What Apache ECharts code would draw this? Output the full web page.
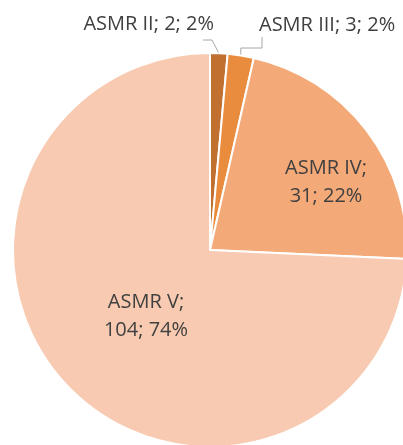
<!DOCTYPE html>
<html>
<head>
<meta charset="utf-8">
<script src="https://cdn.jsdelivr.net/npm/echarts@6/dist/echarts.min.js"></script>
<style>
  html, body { margin: 0; padding: 0; background: #fff; }
  #chart { width: 403px; height: 445px; }
</style>
</head>
<body>
<div id="chart"></div>
<script>
// données
const categories = ["ASMR II", "ASMR III", "ASMR IV", "ASMR V"]
const values = [2, 3, 31, 104]
const percentLabels = ["2%", "2%", "22%", "74%"]
const colors = ["#C1702F", "#EA8C3E", "#F4AA78", "#F8CAB1"]

const myChart = echarts.init(document.getElementById("chart"))

const seriesData = categories.map((name, i) => ({
  name: name,
  value: values[i],
  itemStyle: { color: colors[i] },
  label: i < 2
    ? { position: "outside" }
    : { position: "inside" },
  labelLine: { show: i < 2 },
}))

const option = {
  animation: false,
  series: [
    {
      type: "pie",
      center: [210, 250],
      radius: 197,
      startAngle: 90,
      clockwise: true,
      data: seriesData,
      itemStyle: { borderColor: "#fff", borderWidth: 2 },
      label: {
        fontFamily: "Open Sans",
        fontSize: 20,
        color: "#404040",
        lineHeight: 28,
        overflow: "none",
        formatter: (p) => {
          const txt = p.name + "; " + p.value + "; " + percentLabels[p.dataIndex]
          if (p.dataIndex < 2) return txt
          return p.name + ";\n" + p.value + "; " + percentLabels[p.dataIndex]
        },
      },
      labelLine: {
        lineStyle: { color: "#A6A6A6", width: 1 },
      },
      // position des étiquettes façon Excel
      labelLayout: (params) => {
        const i = params.dataIndex
        const s = params.labelLinePoints && params.labelLinePoints[0]
        if (i === 0) {
          return {
            x: 214, y: 24, align: "right", verticalAlign: "middle",
            labelLinePoints: [s, [212, 40], [203, 40]],
          }
        }
        if (i === 1) {
          return {
            x: 259, y: 25, align: "left", verticalAlign: "middle",
            labelLinePoints: [s, [s[0], 48], [262, 48], [262, 37]],
          }
        }
        if (i === 2) return { x: 326, y: 182, align: "center", verticalAlign: "middle" }
        return { x: 146, y: 316, align: "center", verticalAlign: "middle" }
      },
    },
  ],
}

myChart.setOption(option)
</script>
</body>
</html>
